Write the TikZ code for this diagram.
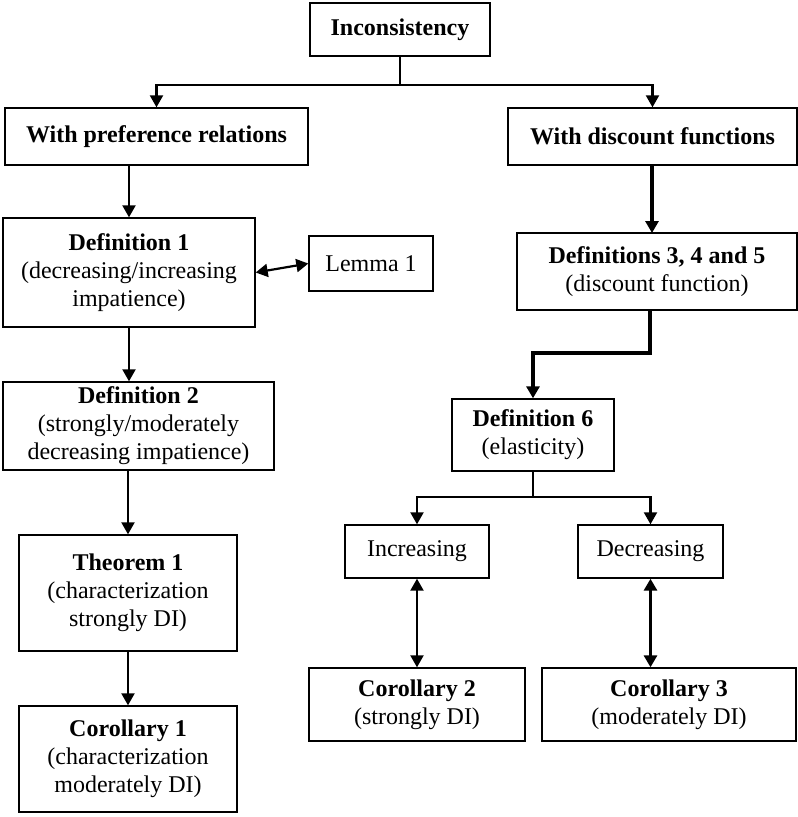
\documentclass[tikz,border=0pt]{standalone}
\usepackage{fontspec}
\setmainfont{Liberation Serif}
\usetikzlibrary{arrows.meta}

\tikzset{
	box/.style={shape=rectangle, draw=black, line width=1.4pt, align=center, inner sep=0pt,
		font=\fontsize{24}{28}\selectfont},
	arr/.style={-{Triangle[width=13pt,length=12pt]}, line width=2.2pt},
	darr/.style={{Triangle[width=13pt,length=12pt]}-{Triangle[width=13pt,length=12pt]}, line width=2.2pt},
	heavy/.style={line width=3.6pt}
}

\begin{document}
\begin{tikzpicture}[x=1pt, y=-1pt]
	
	\useasboundingbox (0, 0) rectangle (798, 817);
	
	\node[box, minimum width=180, minimum height=53] (inc) at (400, 29.5)     {\textbf{Inconsistency}};
	\node[box, minimum width=303, minimum height=57] (wpr) at (156.5, 136.5)  {\textbf{With preference relations}};
	\node[box, minimum width=289, minimum height=57] (wdf) at (652.5, 136.5)  {\textbf{With discount functions}};
	
	\node[box, minimum width=252, minimum height=109] (def1) at (129, 272.5)  {\textbf{Definition 1}\\(decreasing/increasing\\impatience)};
	\node[box, minimum width=124, minimum height=55] (lem) at (371, 263.5)    {Lemma 1};
	\node[box, minimum width=271, minimum height=88] (def2) at (138.5, 426)   {\textbf{Definition 2}\\(strongly/moderately\\decreasing impatience)};
	\node[box, minimum width=218, minimum height=116] (thm) at (128, 593)     {\textbf{Theorem 1}\\(characterization\\strongly DI)};
	\node[box, minimum width=218, minimum height=106] (cor1) at (128, 759)    {\textbf{Corollary 1}\\(characterization\\moderately DI)};
	
	\node[box, minimum width=280, minimum height=77] (def345) at (657, 271.5) {\textbf{Definitions 3, 4 and 5}\\(discount function)};
	\node[box, minimum width=162, minimum height=72] (def6) at (533, 435)     {\textbf{Definition 6}\\(elasticity)};
	\node[box, minimum width=144, minimum height=53] (incr) at (417, 551.5)   {Increasing};
	\node[box, minimum width=145, minimum height=53] (decr) at (650.5, 551.5) {Decreasing};
	\node[box, minimum width=216, minimum height=73] (cor2) at (417, 704.5)   {\textbf{Corollary 2}\\(strongly DI)};
	\node[box, minimum width=254, minimum height=73] (cor3) at (669, 704.5)   {\textbf{Corollary 3}\\(moderately DI)};
	
	\coordinate (j1) at (400, 85);
	\coordinate (j2) at (650, 353);
	\coordinate (j3) at (533, 497);
	
	\draw[arr] (inc.south) -- (j1) -| (wpr.north);
	\draw[arr] (j1) -| (wdf.north);
	
	\draw[arr] (wpr.south -| def1.north) -- (def1.north);
	\draw[darr] (def1.east) -- (lem.west);
	\draw[arr] (def1.south) -- (def1.south |- def2.north);
	\draw[arr] (def2.south -| thm.north) -- (thm.north);
	\draw[arr] (thm.south) -- (cor1.north);
	
	\draw[arr, heavy] (wdf.south -| 652, 0) -- (652, 233);
	\draw[arr, heavy] (def345.south -| j2) -- (j2) -| (def6.north);
	\draw[arr] (def6.south) -- (j3) -| (incr.north);
	\draw[arr] (j3) -| (decr.north);
	
	\draw[darr] (incr.south) -- (cor2.north);
	\draw[darr, heavy] (decr.south) -- (cor3.north -| decr.south);
	
\end{tikzpicture}
\end{document}
